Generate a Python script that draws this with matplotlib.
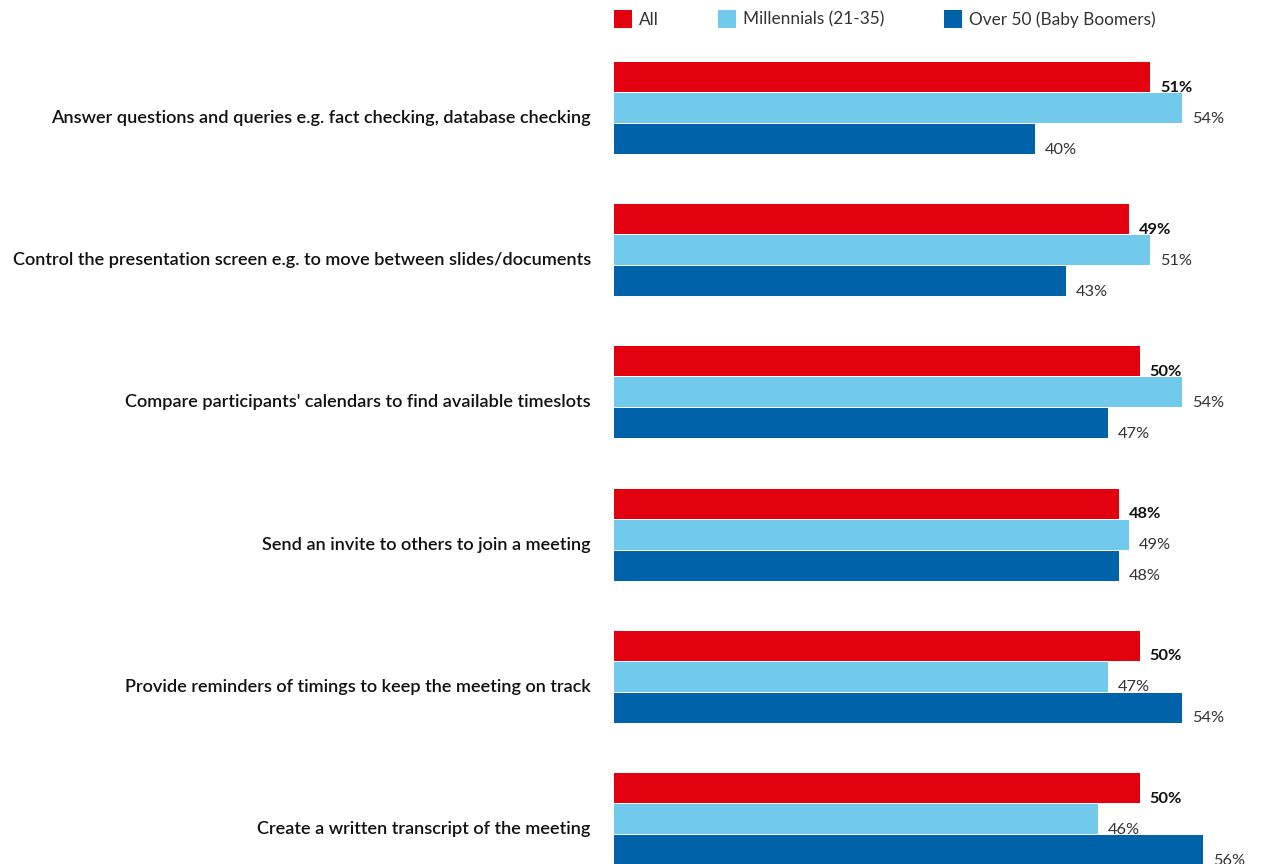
import matplotlib
matplotlib.use("Agg")
import matplotlib.pyplot as plt
from matplotlib.patches import Patch

# podaci sa slike (redosled odozgo nadole)
categories = [
    "Answer questions and queries e.g. fact checking, database checking",
    "Control the presentation screen e.g. to move between slides/documents",
    "Compare participants' calendars to find available timeslots",
    "Send an invite to others to join a meeting",
    "Provide reminders of timings to keep the meeting on track",
    "Create a written transcript of the meeting",
]
all_vals = [51, 49, 50, 48, 50, 50]
millennials = [54, 51, 54, 49, 47, 46]
boomers = [40, 43, 47, 48, 54, 56]

series = [
    ("All", all_vals, "#e3000f", "bold", "#111111"),
    ("Millennials (21-35)", millennials, "#71caeb", "normal", "#333333"),
    ("Over 50 (Baby Boomers)", boomers, "#0063aa", "normal", "#333333"),
]

plt.rcParams["font.family"] = ["Lato", "DejaVu Sans"]

W, H = 1264, 864
fig = plt.figure(figsize=(W / 100, H / 100), dpi=100)
ax = fig.add_axes([614 / W, 0, 652 / W, 1])

pitch = 142.2
bar_h = 30 / pitch
offs = [-31 / pitch, 0, 31 / pitch]
ypos = range(len(categories))

for (name, vals, color, weight, tcol), off in zip(series, offs):
    ys = [y + off for y in ypos]
    ax.barh(ys, vals, height=bar_h, color=color, linewidth=0)
    for y, v in zip(ys, vals):
        ax.text(v + 0.95, y + 0.075, f"{v}%", va="center", ha="left",
                fontsize=11.8, fontweight=weight, color=tcol, clip_on=False)

for y, cat in zip(ypos, categories):
    ax.text(-2.2, y + 0.07, cat, va="center", ha="right", fontsize=13.1,
            fontweight="semibold", color="#111111", clip_on=False)

ax.set_xlim(0, 62)
ax.set_ylim((H - 108) / pitch, -108 / pitch)
ax.set_axis_off()

handles = [Patch(facecolor=c, edgecolor="none", label=n) for n, _, c, _, _ in series]
fig.legend(handles=handles, loc="upper left", bbox_to_anchor=(614 / W, 1 - 10 / H),
           ncol=3, frameon=False, fontsize=12.4, handlelength=1.05, handleheight=1.2,
           handletextpad=0.4, columnspacing=3.45, borderpad=0, borderaxespad=0,
           labelcolor="#333333")

fig.savefig("out.png", dpi=100)
plt.close(fig)
